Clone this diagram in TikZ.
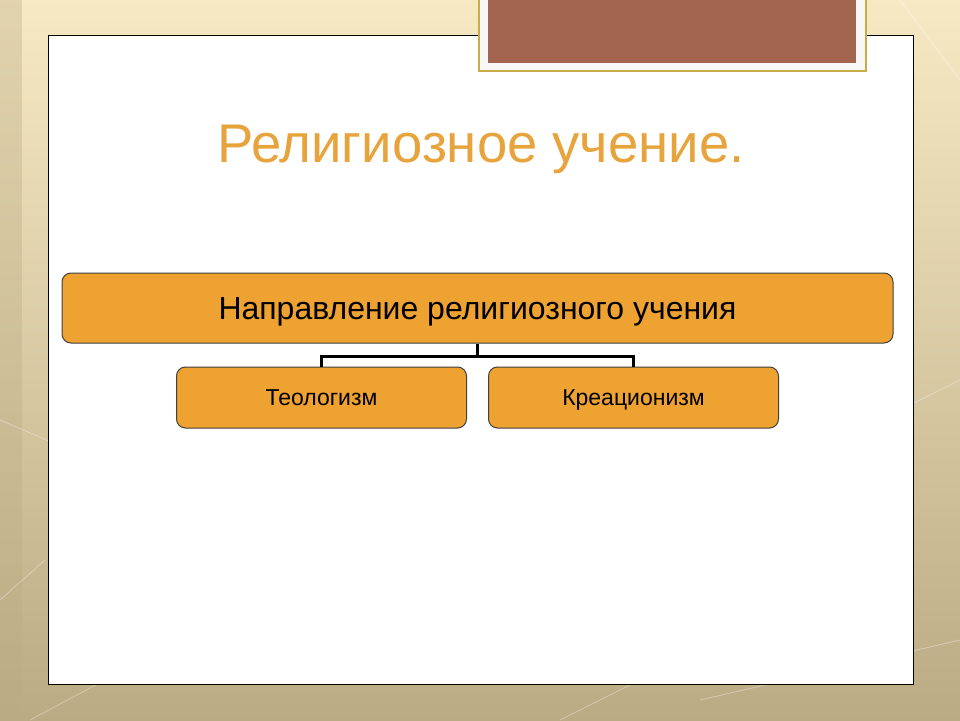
\documentclass[tikz,border=0pt]{standalone}
\usepackage{fontspec}
\setmainfont{Liberation Sans}
\usetikzlibrary{positioning,calc}
\definecolor{slidecream}{HTML}{F6E9C4}
\definecolor{slidetan}{HTML}{BBAB84}
\definecolor{tabbrown}{HTML}{A3654F}
\definecolor{tabgold}{HTML}{C9AC4A}
\definecolor{titleorange}{HTML}{E8A43C}
\definecolor{boxorange}{HTML}{EEA232}
\tikzset{
  box/.style={draw=black!75,fill=boxorange,rounded corners=9pt,line width=1pt,align=center,inner sep=0pt,text depth=0pt},
  conn/.style={line width=2.5pt},
}

\begin{document}
\begin{tikzpicture}[x=1pt,y=-1pt]
			\useasboundingbox (0,0) rectangle (960,720);
			% backdrop
			\shade[top color=slidecream,bottom color=slidetan] (0,0) rectangle (960,720);
			\fill[slidetan,opacity=0.35] (0,0) rectangle (22,720);
			\foreach \a/\b/\c/\d in {0/420/140/480,0/600/45/560,30/720/180/640,560/720/800/600,700/700/960/640,900/0/960/80,880/420/960/380}
				\draw[white,opacity=0.35,line width=0.8pt] (\a,\b) -- (\c,\d);
			% slide panel
			\draw[fill=white,line width=1pt] (48,35) rectangle (913,684);
			% top tab
			\draw[tabgold,fill=black!3,line width=2pt] (479,-5) rectangle (866,71);
			\fill[tabbrown] (488,-5) rectangle (856,63);
			% title
			\node[anchor=base,text=titleorange,font=\fontsize{54.5}{60}\selectfont] (title) at (481,162) {Религиозное учение.};
			% hierarchy
			\node[box,minimum width=831pt,minimum height=70pt,font=\fontsize{32}{36}\selectfont] (main) at (477.5,308) {Направление религиозного учения};
			\node[box,minimum width=290pt,minimum height=61pt,font=\fontsize{23}{28}\selectfont,below=23pt of main.south,xshift=-156pt] (teo) {Теологизм};
			\node[box,minimum width=290pt,minimum height=61pt,font=\fontsize{23}{28}\selectfont,below=23pt of main.south,xshift=156pt] (kre) {Креационизм};
			\coordinate (fork) at ($(main.south)+(0,13)$);
			\draw[conn] (main.south) -- (fork);
			\draw[conn] (teo.north) |- (fork) -| (kre.north);
		\end{tikzpicture}
\end{document}
